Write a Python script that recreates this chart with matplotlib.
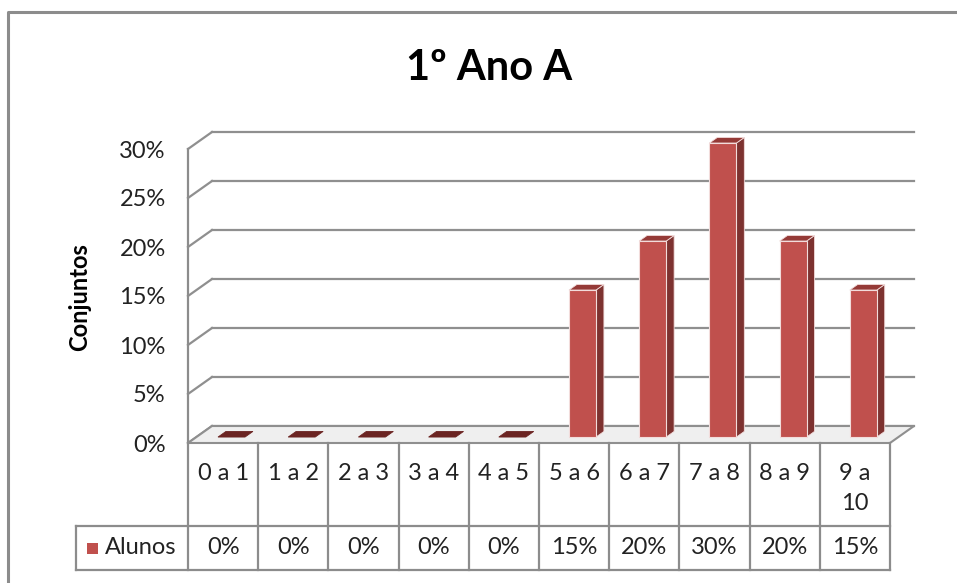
import matplotlib
matplotlib.use("Agg")
from matplotlib import pyplot as plt
from matplotlib.patches import Polygon
from matplotlib.lines import Line2D

# data
categories = ['0 a 1', '1 a 2', '2 a 3', '3 a 4', '4 a 5',
              '5 a 6', '6 a 7', '7 a 8', '8 a 9', '9 a\n10']
alunos = [0, 0, 0, 0, 0, 15, 20, 30, 20, 15]
yticks = [0, 5, 10, 15, 20, 25, 30]
series_name = 'Alunos'

plt.rcParams['font.family'] = ['Lato', 'DejaVu Sans']

W, H = 957, 583
fig = plt.figure(figsize=(W / 100, H / 100), dpi=100)

# plot area (front plane) in pixels
x_left, x_right = 188, 890
y_zero, y_top = 443, 149
px_cat = (x_right - x_left) / len(categories)
px_val = (y_zero - y_top) / 30.0

ax = fig.add_axes([x_left / W, (H - y_zero) / H,
                   (x_right - x_left) / W, (y_zero - y_top) / H])
ax.set_xlim(0, len(categories))
ax.set_ylim(0, 30)
for s in ['top', 'right', 'bottom']:
    ax.spines[s].set_visible(False)
ax.spines['left'].set_color('#8c8c8c')
ax.spines['left'].set_linewidth(1.6)
ax.set_xticks([])
ax.set_yticks(yticks)
ax.set_yticklabels(['%d%%' % v for v in yticks], fontsize=17, color='#222222')
ax.tick_params(axis='y', length=0, pad=16)

def dx(p):
    return (p - x_left) / px_cat

def dy(p):
    return (y_zero - p) / px_val

# depth of the 3d box in data units
DX = 24 / px_cat
DY = 17 / px_val
grid_col = '#8f8f8f'
n = len(categories)

# floor
floor = Polygon([(0, 0), (n, 0), (n + DX, DY), (DX, DY)], closed=True,
                facecolor='#efefef', edgecolor=grid_col, lw=1.5, clip_on=False, zorder=1)
ax.add_patch(floor)

# back wall gridlines + side wall diagonals
for v in yticks:
    ax.plot([DX, n + DX], [v + DY, v + DY], color=grid_col, lw=1.6, clip_on=False, zorder=0.5)
    ax.plot([0, DX], [v, v + DY], color=grid_col, lw=1.6, clip_on=False, zorder=0.5)

# bars
bw = 27 / px_cat
f0, f1 = 0.35, 0.68
dd = f1 - f0
front_c, side_c, top_c = '#c0504d', '#7d3230', '#953a37'
for i, v in enumerate(alunos):
    x0 = i + 0.5 - bw / 2 + f0 * DX
    xr = x0 + bw
    b0 = f0 * DY
    t = b0 + v
    side = Polygon([(xr, b0), (xr + dd * DX, b0 + dd * DY),
                    (xr + dd * DX, t + dd * DY), (xr, t)],
                   facecolor=side_c, edgecolor='#f2dcdb', lw=0.6, clip_on=False, zorder=3)
    top = Polygon([(x0, t), (xr, t), (xr + dd * DX, t + dd * DY), (x0 + dd * DX, t + dd * DY)],
                  facecolor=top_c if v > 0 else '#6b2422', edgecolor='#f2dcdb' if v > 0 else '#6b2422',
                  lw=0.6, clip_on=False, zorder=3)
    ax.add_patch(side)
    ax.add_patch(top)
    if v > 0:
        ax.bar(x0, v, width=bw, bottom=b0, align='edge', color=front_c,
               edgecolor='#f2dcdb', lw=0.8, clip_on=False, zorder=4)

# data table
tab_col = '#8c8c8c'
row1 = dy(526)
row2 = dy(570)
leg_left = dx(76)
ax.plot([0, 0], [0, row2], color=tab_col, lw=1.6, clip_on=False)
ax.plot([leg_left, n], [row1, row1], color=tab_col, lw=1.6, clip_on=False)
ax.plot([leg_left, n], [row2, row2], color=tab_col, lw=1.6, clip_on=False)
ax.plot([leg_left, leg_left], [row1, row2], color=tab_col, lw=1.6, clip_on=False)
for k in range(1, n + 1):
    ax.plot([k, k], [0, row2], color=tab_col, lw=1.6, clip_on=False)

for i, (c, v) in enumerate(zip(categories, alunos)):
    ax.text(i + 0.5, dy(463), c, ha='center', va='top', fontsize=17,
            color='#222222', linespacing=1.55, clip_on=False)
    ax.text(i + 0.5, (row1 + row2) / 2, '%d%%' % v, ha='center', va='center',
            fontsize=17, color='#222222', clip_on=False)

ax.add_patch(Polygon([(dx(87), dy(554)), (dx(98), dy(554)), (dx(98), dy(543)), (dx(87), dy(543))],
                     facecolor=front_c, edgecolor='none', clip_on=False))
ax.text(dx(105), (row1 + row2) / 2, series_name, ha='left', va='center',
        fontsize=17, color='#222222', clip_on=False)

# titles
fig.text(489 / W, 1 - 68 / H, '1º Ano A', ha='center', va='center',
         fontsize=30, fontweight='bold', color='#000000')
fig.text(80 / W, 1 - 297 / H, 'Conjuntos', ha='center', va='center', rotation=90,
         fontsize=17, fontweight='bold', color='#000000')

# chart border
fig.add_artist(Line2D([8 / W, 8 / W, 1.01], [-0.01, 1 - 12 / H, 1 - 12 / H],
                      color='#8c8c8c', lw=2.2))

fig.savefig('out.png', dpi=100)
